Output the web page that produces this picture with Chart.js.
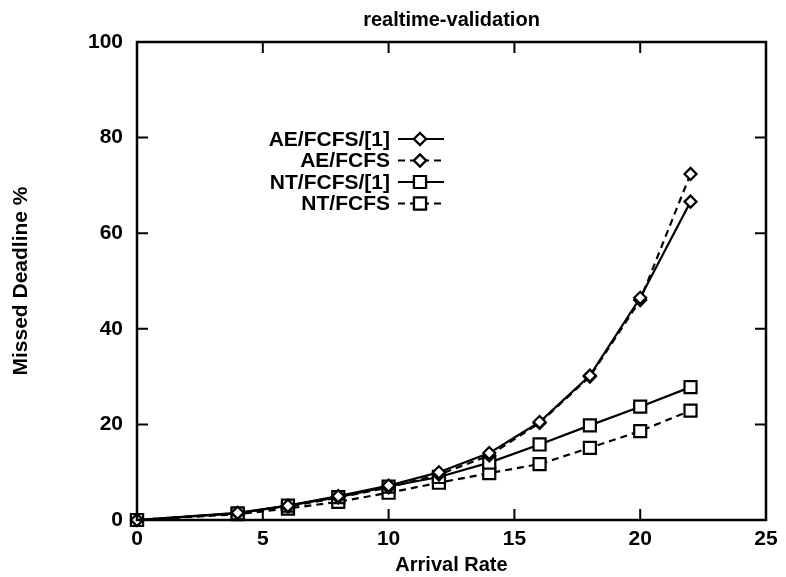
<!DOCTYPE html>
<html>
<head>
<meta charset="utf-8">
<title>realtime-validation</title>
<script src="https://cdn.jsdelivr.net/npm/chart.js@4.4.0/dist/chart.umd.min.js"></script>
<style>
  html, body { margin: 0; padding: 0; background: #fff; }
  #wrap { width: 786px; height: 577px; }
</style>
</head>
<body>
<div id="wrap"><canvas id="rtChart" width="786" height="577"></canvas></div>
<script>
// values
const arrivalRate = [0, 4, 6, 8, 10, 12, 14, 16, 18, 20, 22];
const aeFcfsRef = [0, 1.5, 3, 5, 7.2, 10, 14, 20.5, 30.2, 46.5, 66.6];
const aeFcfs = [0, 1.4, 2.8, 4.7, 6.8, 9.5, 13.5, 20.3, 30, 46, 72.4];
const ntFcfsRef = [0, 1.4, 3, 4.8, 7, 9, 12, 15.8, 19.8, 23.7, 27.8];
const ntFcfs = [0, 1.2, 2.4, 3.8, 5.7, 7.8, 9.8, 11.7, 15.1, 18.6, 22.9];
const seriesNames = ['AE/FCFS/[1]', 'AE/FCFS', 'NT/FCFS/[1]', 'NT/FCFS'];
const xTicks = [0, 5, 10, 15, 20, 25];
const yTicks = [0, 20, 40, 60, 80, 100];

const FONT = '"Liberation Sans", Arial, Helvetica, sans-serif';

function points(vals) {
    return arrivalRate.map((x, i) => ({ x: x, y: vals[i] }));
}

function makeSet(label, vals, shape, dashed) {
    return {
        label: label,
        data: points(vals),
        borderColor: '#000',
        backgroundColor: '#fff',
        borderWidth: 2.2,
        borderDash: dashed ? [7, 5] : [],
        pointStyle: shape,
        pointRadius: shape === 'rect' ? 8.5 : 6,
        pointBorderWidth: 2.2,
        pointBackgroundColor: '#fff',
        pointBorderColor: '#000',
        tension: 0,
        fill: false
    };
}

// frame with gnuplot style inward ticks, title and the inside legend
const gnuplotDecor = {
    id: 'gnuplotDecor',
    afterDatasetsDraw(chart) {
        const ctx = chart.ctx;
        const a = chart.chartArea;
        const xs = chart.scales.x;
        const ys = chart.scales.y;
        ctx.save();
        ctx.strokeStyle = '#000';
        ctx.lineWidth = 2.5;
        ctx.setLineDash([]);
        ctx.strokeRect(a.left, a.top, a.right - a.left, a.bottom - a.top);
        ctx.lineWidth = 2;
        const len = 11;
        xTicks.forEach(v => {
            const px = xs.getPixelForValue(v);
            ctx.beginPath();
            ctx.moveTo(px, a.bottom); ctx.lineTo(px, a.bottom - len);
            ctx.moveTo(px, a.top); ctx.lineTo(px, a.top + len);
            ctx.stroke();
        });
        yTicks.forEach(v => {
            const py = ys.getPixelForValue(v);
            ctx.beginPath();
            ctx.moveTo(a.left, py); ctx.lineTo(a.left + len, py);
            ctx.moveTo(a.right, py); ctx.lineTo(a.right - len, py);
            ctx.stroke();
        });

        // title
        ctx.fillStyle = '#000';
        ctx.font = 'bold 20px ' + FONT;
        ctx.textAlign = 'center';
        ctx.textBaseline = 'middle';
        ctx.fillText('realtime-validation', (a.left + a.right) / 2, 20);

        // legend
        ctx.font = 'bold 21px ' + FONT;
        ctx.textAlign = 'right';
        chart.data.datasets.forEach((ds, i) => {
            const y = 139 + i * 21.5;
            ctx.fillStyle = '#000';
            ctx.fillText(ds.label, 390, y + 1);
            ctx.lineWidth = ds.borderWidth;
            ctx.setLineDash(ds.borderDash);
            ctx.beginPath();
            ctx.moveTo(398, y);
            ctx.lineTo(444, y);
            ctx.stroke();
            ctx.setLineDash([]);
            ctx.fillStyle = '#fff';
            ctx.lineWidth = ds.pointBorderWidth;
            Chart.helpers.drawPoint(ctx, { pointStyle: ds.pointStyle, radius: ds.pointRadius, borderWidth: 2 }, 420, y);
            ctx.fill();
            ctx.stroke();
        });
        ctx.restore();
    }
};

const ctx = document.getElementById('rtChart').getContext('2d');
new Chart(ctx, {
    type: 'line',
    data: {
        datasets: [
            makeSet(seriesNames[0], aeFcfsRef, 'rectRot', false),
            makeSet(seriesNames[1], aeFcfs, 'rectRot', true),
            makeSet(seriesNames[2], ntFcfsRef, 'rect', false),
            makeSet(seriesNames[3], ntFcfs, 'rect', true)
        ]
    },
    options: {
        responsive: false,
        animation: false,
        clip: false,
        layout: { padding: { left: 0, right: 20, top: 42, bottom: 0 } },
        plugins: {
            legend: { display: false },
            title: { display: false },
            tooltip: { enabled: false }
        },
        scales: {
            x: {
                type: 'linear',
                min: 0,
                max: 25,
                afterFit: s => { s.height = 57; },
                afterBuildTicks: s => { s.ticks = xTicks.map(v => ({ value: v })); },
                grid: { display: false, drawTicks: false },
                border: { display: false },
                ticks: {
                    color: '#000',
                    padding: 7,
                    maxRotation: 0,
                    font: { family: FONT, size: 21, weight: 'bold' }
                },
                title: {
                    display: true,
                    text: 'Arrival Rate',
                    color: '#000',
                    padding: { top: 0, bottom: 0 },
                    font: { family: FONT, size: 20, weight: 'bold' }
                }
            },
            y: {
                min: 0,
                max: 100,
                afterFit: s => { s.width = 137; },
                afterBuildTicks: s => { s.ticks = yTicks.map(v => ({ value: v })); },
                grid: { display: false, drawTicks: false },
                border: { display: false },
                ticks: {
                    color: '#000',
                    padding: 14,
                    font: { family: FONT, size: 21, weight: 'bold' }
                },
                title: {
                    display: true,
                    text: 'Missed Deadline %',
                    color: '#000',
                    padding: { top: 9, bottom: 0 },
                    font: { family: FONT, size: 21, weight: 'bold' }
                }
            }
        }
    },
    plugins: [gnuplotDecor]
});
</script>
</body>
</html>
